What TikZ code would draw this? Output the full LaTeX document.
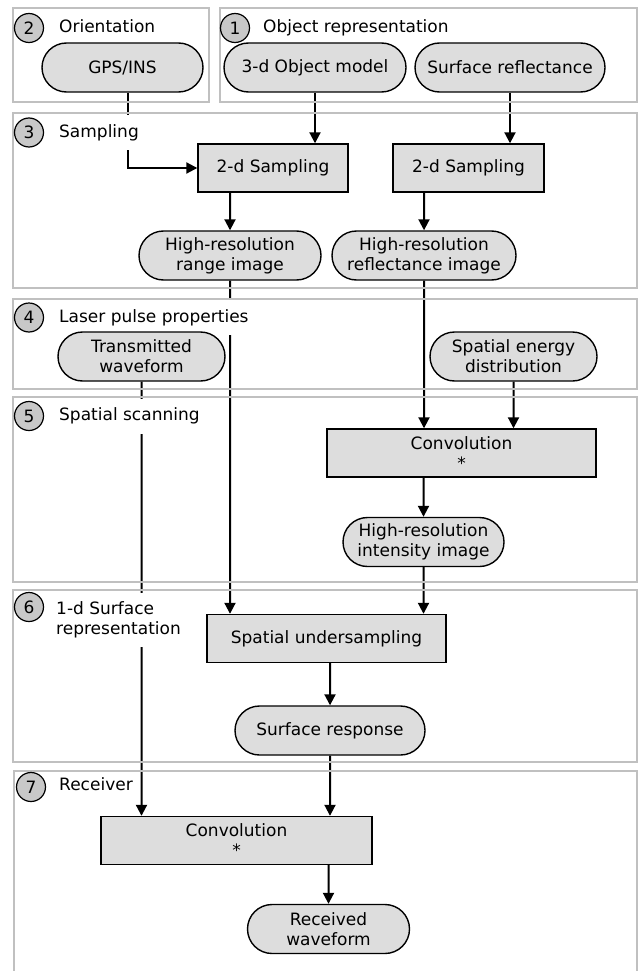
\documentclass[tikz,border=0pt]{standalone}
\usepackage{fontspec}
\setmainfont{DejaVu Sans}
\usetikzlibrary{shapes.misc, arrows.meta}
\pgfdeclarelayer{back}
\pgfsetlayers{back,main}
\definecolor{boxgray}{RGB}{221,221,221}
\definecolor{numgray}{RGB}{200,200,200}
\definecolor{framegray}{RGB}{192,192,192}
\tikzstyle{proc}=[rectangle, draw, fill=boxgray, line width=1.4pt, minimum height=48pt, inner sep=2pt, align=center]
\tikzstyle{data}=[rounded rectangle, draw, fill=boxgray, line width=1.4pt, minimum height=49pt, inner sep=2pt, align=center]
\tikzstyle{frame}=[draw=framegray, line width=2.5pt]
\tikzstyle{num}=[circle, draw, fill=numgray, line width=1.2pt, minimum size=29pt, inner sep=0pt]
\tikzstyle{title}=[anchor=base west, fill=white, inner xsep=2pt, inner ysep=9pt, text depth=4pt, align=left]
\tikzstyle{arr}=[line width=2pt, -{Triangle[length=11pt, width=11pt]}]
\begin{document}
\begin{tikzpicture}[x=1pt, y=-1pt, font=\fontsize{17pt}{20pt}\selectfont]
    \useasboundingbox (0,0) rectangle (641,971);
    \node[title] (t2) at (57,32.5) {Orientation};
    \node[title] (t1) at (261,32.5) {Object representation};
    \node[title] (t3) at (57,137) {Sampling};
    \node[title] (t4) at (57,322) {Laser pulse properties};
    \node[title] (t5) at (57,420.5) {Spatial scanning};
    \node[title, anchor=west] (t6) at (54,620) {1-d Surface\\representation};
    \node[title] (t7) at (57,790) {Receiver};
    \node[data, minimum width=165pt] (gps) at (122.5,67.5) {GPS/INS};
    \node[data, minimum width=186pt] (objmodel) at (315,67.5) {3-d Object model};
    \node[data, minimum width=194pt] (surfrefl) at (510,67.5) {Surface reflectance};
    \node[proc, minimum width=150pt] (samp1) at (273,168) {2-d Sampling};
    \node[proc, minimum width=151pt] (samp2) at (468.5,168) {2-d Sampling};
    \node[data, minimum width=186pt] (rangeimg) at (230,255.5) {High-resolution\\range image};
    \node[data, minimum width=188pt] (reflimg) at (424,255.5) {High-resolution\\reflectance image};
    \node[data, minimum width=171pt] (txwave) at (141.5,356.5) {Transmitted\\waveform};
    \node[data, minimum width=171pt] (energy) at (513.5,356.5) {Spatial energy\\distribution};
    \node[proc, minimum width=269pt] (conv1) at (461.5,453) {Convolution\\*};
    \node[data, minimum width=165pt] (intimg) at (423.5,542) {High-resolution\\intensity image};
    \node[proc, minimum width=239pt] (undersamp) at (326.5,638.5) {Spatial undersampling};
    \node[data, minimum width=194pt] (surfresp) at (330,730.5) {Surface response};
    \node[proc, minimum width=271pt] (conv2) at (236.5,840.5) {Convolution\\*};
    \node[data, minimum width=166pt] (received) at (328.5,929) {Received\\waveform};
    \begin{pgfonlayer}{back}
    \draw[arr] ([xshift=5.5pt]gps.south) |- (samp1.west);
    \draw[arr] (objmodel.south) -- (objmodel.south |- samp1.north);
    \draw[arr] (surfrefl.south) -- (surfrefl.south |- samp2.north);
    \draw[arr] (samp1.south -| rangeimg) -- (rangeimg);
    \draw[arr] (samp2.south -| reflimg) -- (reflimg);
    \draw[arr] (rangeimg) -- (rangeimg |- undersamp.north);
    \draw[arr] (reflimg) -- (reflimg |- conv1.north);
    \draw[arr] (energy) -- (energy |- conv1.north);
    \draw[arr] (conv1.south -| intimg) -- (intimg);
    \draw[arr] (intimg) -- (intimg |- undersamp.north);
    \draw[arr] (undersamp.south -| surfresp) -- (surfresp);
    \draw[arr] (surfresp) -- (surfresp |- conv2.north);
    \draw[arr] (txwave) -- (txwave |- conv2.north);
    \draw[arr] (conv2.south -| received) -- (received);
    \end{pgfonlayer}
    \draw[frame] (13,8) rectangle (209,102);
    \draw[frame] (220,8) rectangle (637,102);
    \draw[frame] (13,113) rectangle (637,288);
    \draw[frame] (13,299) rectangle (637,389);
    \draw[frame] (13,397) rectangle (637,582);
    \draw[frame] (13,590) rectangle (637,762);
    \draw[frame] (14,985) -- (14,771) -- (637,771) -- (637,985);
    \node[num] (n2) at (29,28) {2};
    \node[num] (n1) at (235,28) {1};
    \node[num] (n3) at (29,132.5) {3};
    \node[num] (n4) at (29,317.5) {4};
    \node[num] (n5) at (29,416) {5};
    \node[num] (n6) at (29,607) {6};
    \node[num] (n7) at (31,787) {7};
\end{tikzpicture}
\end{document}
